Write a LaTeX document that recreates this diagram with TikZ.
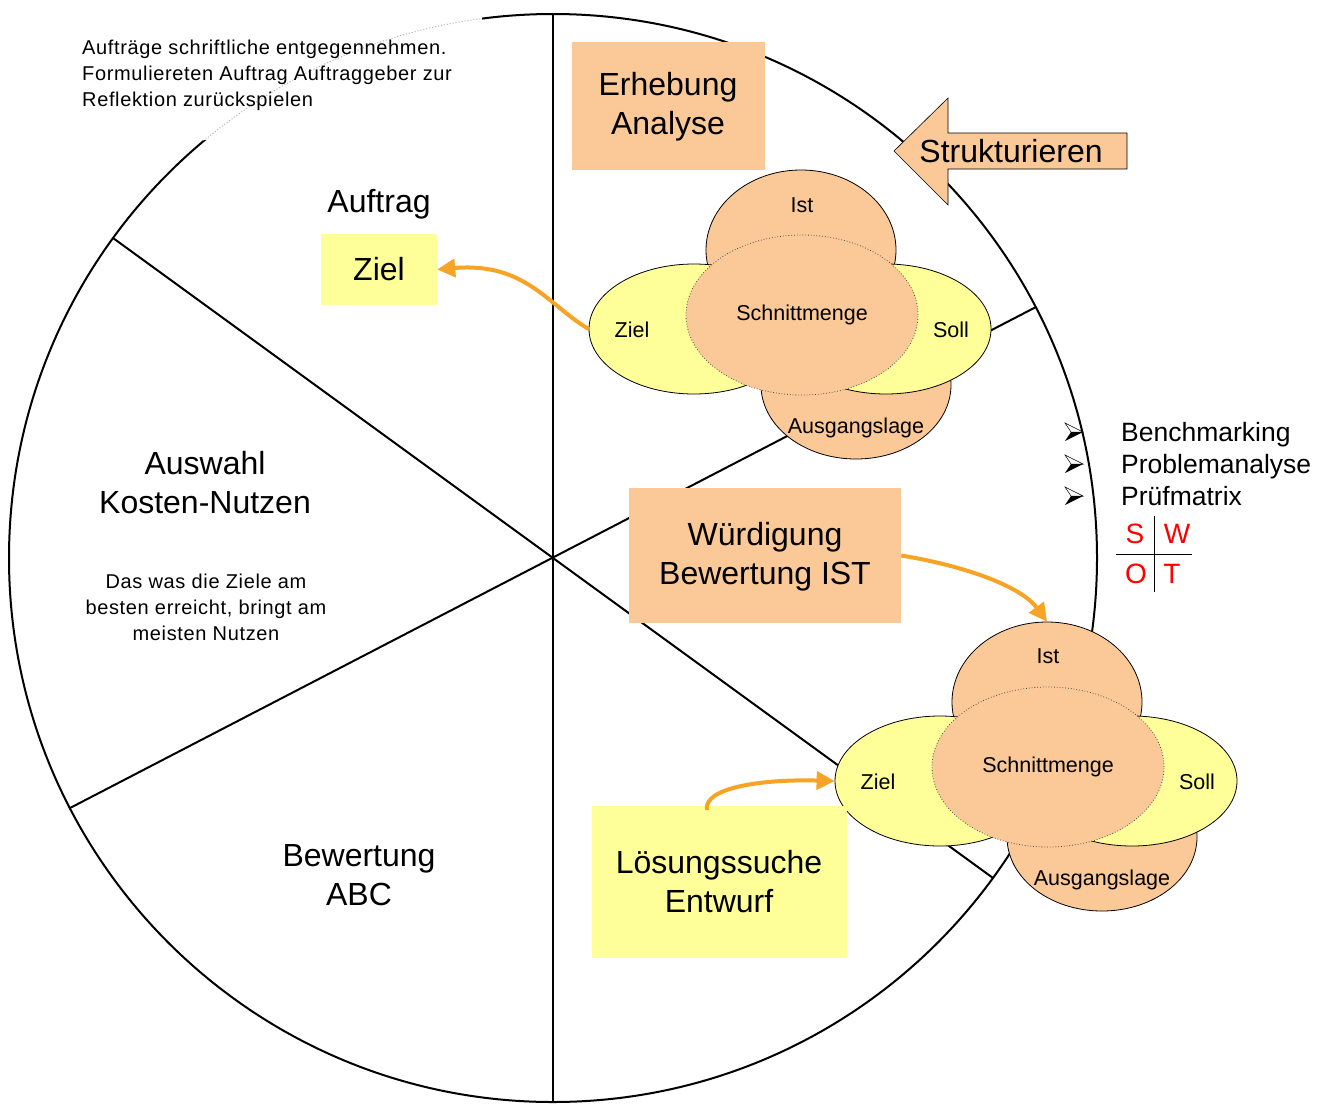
\documentclass[tikz,border=0pt]{standalone}
\usepackage{fontspec}
\setmainfont{Liberation Sans}
\usetikzlibrary{shapes.geometric,arrows.meta}
\definecolor{peach}{RGB}{251,201,152}
\definecolor{lyellow}{RGB}{255,255,153}
\definecolor{arrorange}{RGB}{247,163,38}
\newcommand\arrowbullet[2]{%
  \begin{scope}[shift={(#1,#2)}]
    \filldraw[fill=white,draw=black,line width=0.5pt] (-18,-9) -- (0,0) -- (-12,0) -- cycle;
    \fill[black] (-12,0) -- (0,0) -- (-18,9) -- cycle;
  \end{scope}}
\begin{document}
\begin{tikzpicture}[x=1pt,y=-1pt,
  big/.style={font=\fontsize{32}{39}\selectfont, align=center, inner sep=0},
  small/.style={font=\fontsize{20}{26}\selectfont\addfontfeature{LetterSpace=3.2}, inner sep=0},
  vlab/.style={font=\fontsize{21.5}{25}\selectfont, inner sep=0},
  peachbox/.style={fill=peach, draw=none, inner sep=0},
  yellowbox/.style={fill=lyellow, draw=none, inner sep=0},
  ell/.style={ellipse, draw=black, line width=0.8pt, inner sep=0},
  orangeell/.style={ell, fill=peach},
  yellowell/.style={ell, fill=lyellow},
  cutell/.style={ellipse, fill=peach, draw=black!70, dotted, line width=0.8pt, inner sep=0},
  flow/.style={draw=arrorange, line width=4pt, -{Triangle[length=18pt,width=18pt]}},
  swot/.style={font=\fontsize{28}{30}\selectfont, text=red, inner sep=0},
  wheel/.style={line width=2pt, draw=black}]
\useasboundingbox (0,0) rectangle (1330,1106);
\fill[white] (0,0) rectangle (1330,1106);

% wheel
\coordinate (C) at (553,558);
\draw[wheel] (C) circle[radius=544];
\draw[wheel] (553,14) -- (553,1102);
\draw[wheel] (113,238) -- (993,878);
\draw[wheel] (70,808) -- (1036,307);

% white text field at top left covering the arc
\fill[white] (72,10) rectangle (482,140);
\begin{scope}
  \clip (72,10) rectangle (482,140);
  \draw[black!30, dotted, line width=1pt] (C) circle[radius=544];
\end{scope}
\node[small, align=left, anchor=west] (auftraegetext) at (82,75)
  {Aufträge schriftliche entgegennehmen.\\Formuliereten Auftrag Auftraggeber zur\\Reflektion zurückspielen};

% left sectors
\node[big] (auftrag) at (379,204) {Auftrag};
\node[yellowbox, minimum width=116pt, minimum height=71pt] (zielbox) at (379,269.5) {};
\node[big] (zieltext) at (379,269) {Ziel};
\node[big] (auswahl) at (205,483) {Auswahl\\Kosten-Nutzen};
\node[small, align=center] (daswas) at (206,607) {Das was die Ziele am\\besten erreicht, bringt am\\meisten Nutzen};
\node[big] (bewertung) at (359,875) {Bewertung\\ABC};

% Erhebung box
\node[peachbox, minimum width=193pt, minimum height=128pt] (erhebung) at (668.5,106) {};
\node[big] (erhebungtext) at (668,107) {Erhebung\\Analyse};

% Strukturieren arrow
\filldraw[fill=peach, draw=black, line width=0.6pt]
  (894,151) -- (948,98) -- (948,133) -- (1127,133) -- (1127,169) -- (948,169) -- (948,205) -- cycle;
\node[big] (strukt) at (1011,151) {Strukturieren};

% top Venn
\node[orangeell, minimum width=190pt, minimum height=160pt] (istA) at (801,250) {};
\node[orangeell, minimum width=190pt, minimum height=148pt] (ausA) at (856,385) {};
\node[yellowell, minimum width=210pt, minimum height=130pt] (zielA) at (694,329) {};
\node[yellowell, minimum width=210pt, minimum height=130pt] (sollA) at (886,329) {};
\node[cutell, minimum width=232pt, minimum height=160pt] (schnA) at (802,315) {};
\node[vlab] (istAl) at (802,205) {Ist};
\node[vlab] (schnAl) at (802,315) {Schnittmenge};
\node[vlab] (zielAl) at (632,330) {Ziel};
\node[vlab] (sollAl) at (951,330) {Soll};
\node[vlab] (ausAl) at (856,428) {Ausgangslage};

% Wuerdigung box
\node[peachbox, minimum width=272pt, minimum height=135pt] (wuerd) at (765,555.5) {};
\node[big] (wuerdtext) at (765,557) {Würdigung\\Bewertung IST};

% bottom Venn
\node[orangeell, minimum width=190pt, minimum height=160pt] (istB) at (1047,702) {};
\node[orangeell, minimum width=190pt, minimum height=148pt] (ausB) at (1102,837) {};
\node[yellowell, minimum width=210pt, minimum height=130pt] (zielB) at (940,781) {};
\node[yellowell, minimum width=210pt, minimum height=130pt] (sollB) at (1132,781) {};
\node[cutell, minimum width=232pt, minimum height=160pt] (schnB) at (1048,767) {};
\node[vlab] (istBl) at (1048,656) {Ist};
\node[vlab] (schnBl) at (1048,767) {Schnittmenge};
\node[vlab] (zielBl) at (878,782) {Ziel};
\node[vlab] (sollBl) at (1197,782) {Soll};
\node[vlab] (ausBl) at (1102,880) {Ausgangslage};

% Loesungssuche box
\node[yellowbox, minimum width=255pt, minimum height=152pt] (loesung) at (719.5,882) {};
\node[big] (loesungtext) at (719,882) {Lösungssuche\\Entwurf};
\coordinate (loesungstart) at (707,810);

% orange connectors
\draw[flow] (zielA.west) .. controls (548,305) and (525,262) .. (zielbox.east);
\draw[flow] (wuerd.east) .. controls (960,565) and (1020,585) .. (istB.north);
\draw[flow] (loesungstart) .. controls (703,788) and (760,779) .. (zielB.west);

% method list
\arrowbullet{1083}{432}
\arrowbullet{1083}{464}
\arrowbullet{1083}{496}
\node[font=\fontsize{26.5}{32}\selectfont, align=left, anchor=west, inner sep=0] (methods) at (1121,464)
  {Benchmarking\\Problemanalyse\\Prüfmatrix};

% SWOT
\draw[black, line width=0.8pt] (1154,516) -- (1154,592);
\draw[black, line width=0.8pt] (1116,554) -- (1192,554);
\node[swot] (swS) at (1135,534) {S};
\node[swot] (swW) at (1177,534) {W};
\node[swot] (swO) at (1136,574) {O};
\node[swot] (swT) at (1172,574) {T};
\end{tikzpicture}
\end{document}
